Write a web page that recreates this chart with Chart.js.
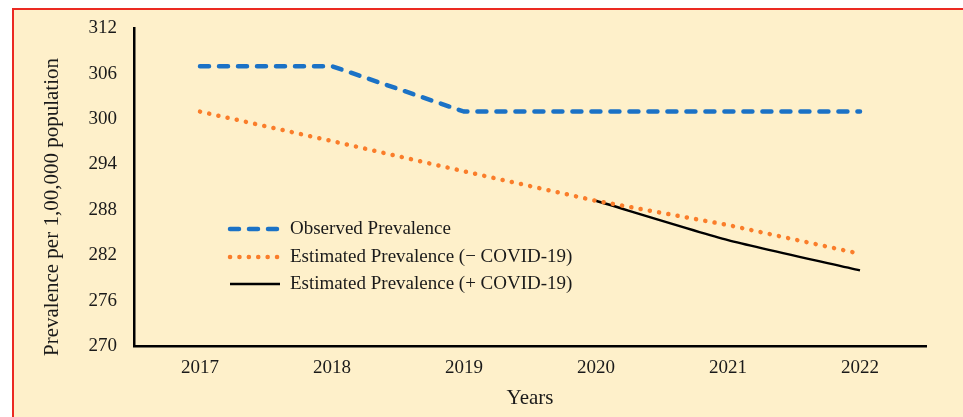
<!DOCTYPE html>
<html>
<head>
<meta charset="utf-8">
<script src="https://cdn.jsdelivr.net/npm/chart.js@4.4.1/dist/chart.umd.min.js"></script>
<style>
  html, body { margin: 0; padding: 0; background: #fff; }
  canvas { display: block; }
</style>
</head>
<body>
<canvas id="chart" width="963" height="417"></canvas>
<script>
// data
const years = ['2017', '2018', '2019', '2020', '2021', '2022'];
const observed = [307, 307, 301, 301, 301, 301];
const estimatedNoCovid = [301, 297.1, 293.1, 289.2, 286, 282.2];
const estimatedCovid = [null, null, null, 289.2, 284, 280];
const yTicks = { min: 270, max: 312, step: 6 };

const serif = "'Liberation Serif', 'Times New Roman', serif";
const cream = '#FEF0CA';

// background + red frame (top and left edge)
const framePlugin = {
    id: 'frame',
    beforeDraw(chart) {
        const ctx = chart.ctx;
        ctx.save();
        ctx.fillStyle = '#ffffff';
        ctx.fillRect(0, 0, chart.width, chart.height);
        ctx.fillStyle = cream;
        ctx.fillRect(13, 9, chart.width - 13, chart.height - 9);
        ctx.strokeStyle = '#EB2A22';
        ctx.lineWidth = 2;
        ctx.beginPath();
        ctx.moveTo(13, chart.height);
        ctx.lineTo(13, 9);
        ctx.lineTo(chart.width, 9);
        ctx.stroke();
        ctx.restore();
    }
};

// y title drawn by hand so it sits where the original does
const yTitlePlugin = {
    id: 'yTitle',
    afterDraw(chart) {
        const ctx = chart.ctx;
        ctx.save();
        ctx.translate(52, 207);
        ctx.rotate(-Math.PI / 2);
        ctx.font = '21px ' + serif;
        ctx.fillStyle = '#1a1a1a';
        ctx.textAlign = 'center';
        ctx.textBaseline = 'middle';
        ctx.fillText('Prevalence per 1,00,000 population', 0, 0);
        ctx.restore();
    }
};

// legend inside the plot area
const innerLegend = {
    id: 'innerLegend',
    afterDatasetsDraw(chart) {
        const ctx = chart.ctx;
        const rows = [229, 257, 284];
        ctx.save();
        ctx.font = '19px ' + serif;
        ctx.textBaseline = 'middle';
        chart.data.datasets.forEach((ds, i) => {
            const y = rows[i];
            ctx.strokeStyle = ds.borderColor;
            ctx.lineWidth = ds.borderWidth;
            ctx.lineCap = ds.borderCapStyle || 'butt';
            ctx.setLineDash(ds.borderDash || []);
            ctx.beginPath();
            ctx.moveTo(230, y);
            ctx.lineTo(280, y);
            ctx.stroke();
            ctx.setLineDash([]);
            ctx.fillStyle = '#1a1a1a';
            ctx.fillText(ds.label, 290, y);
        });
        ctx.restore();
    }
};

new Chart(document.getElementById('chart'), {
    type: 'line',
    data: {
        labels: years,
        datasets: [
            {
                label: 'Observed Prevalence',
                data: observed,
                borderColor: '#1B72C6',
                borderWidth: 4.5,
                borderDash: [9, 10],
                borderCapStyle: 'round',
                pointRadius: 0,
                tension: 0
            },
            {
                label: 'Estimated Prevalence (\u2212 COVID-19)',
                data: estimatedNoCovid,
                borderColor: '#FA7D2A',
                borderWidth: 4.5,
                borderDash: [0.1, 9.3],
                borderCapStyle: 'round',
                pointRadius: 0,
                tension: 0
            },
            {
                label: 'Estimated Prevalence (+ COVID-19)',
                data: estimatedCovid,
                borderColor: '#000000',
                borderWidth: 2.5,
                pointRadius: 0,
                tension: 0.2
            }
        ]
    },
    options: {
        responsive: false,
        animation: false,
        layout: { padding: { left: 0, right: 37, top: 28, bottom: 0 } },
        plugins: {
            legend: { display: false },
            tooltip: { enabled: false }
        },
        scales: {
            x: {
                offset: true,
                grid: { display: false, drawTicks: false },
                border: { display: true, color: '#000', width: 2.5 },
                ticks: {
                    color: '#1a1a1a',
                    font: { family: serif, size: 19 },
                    padding: 11
                },
                title: {
                    display: true,
                    text: 'Years',
                    color: '#1a1a1a',
                    font: { family: serif, size: 21 },
                    padding: { top: 6, bottom: 6 }
                },
                afterFit(scale) { scale.height = 71; }
            },
            y: {
                min: yTicks.min,
                max: yTicks.max,
                grid: { display: false, drawTicks: false },
                border: { display: true, color: '#000', width: 2.5 },
                ticks: {
                    stepSize: yTicks.step,
                    color: '#1a1a1a',
                    font: { family: serif, size: 19 },
                    padding: 17
                },
                afterFit(scale) { scale.width = 134; }
            }
        }
    },
    plugins: [framePlugin, yTitlePlugin, innerLegend]
});
</script>
</body>
</html>
